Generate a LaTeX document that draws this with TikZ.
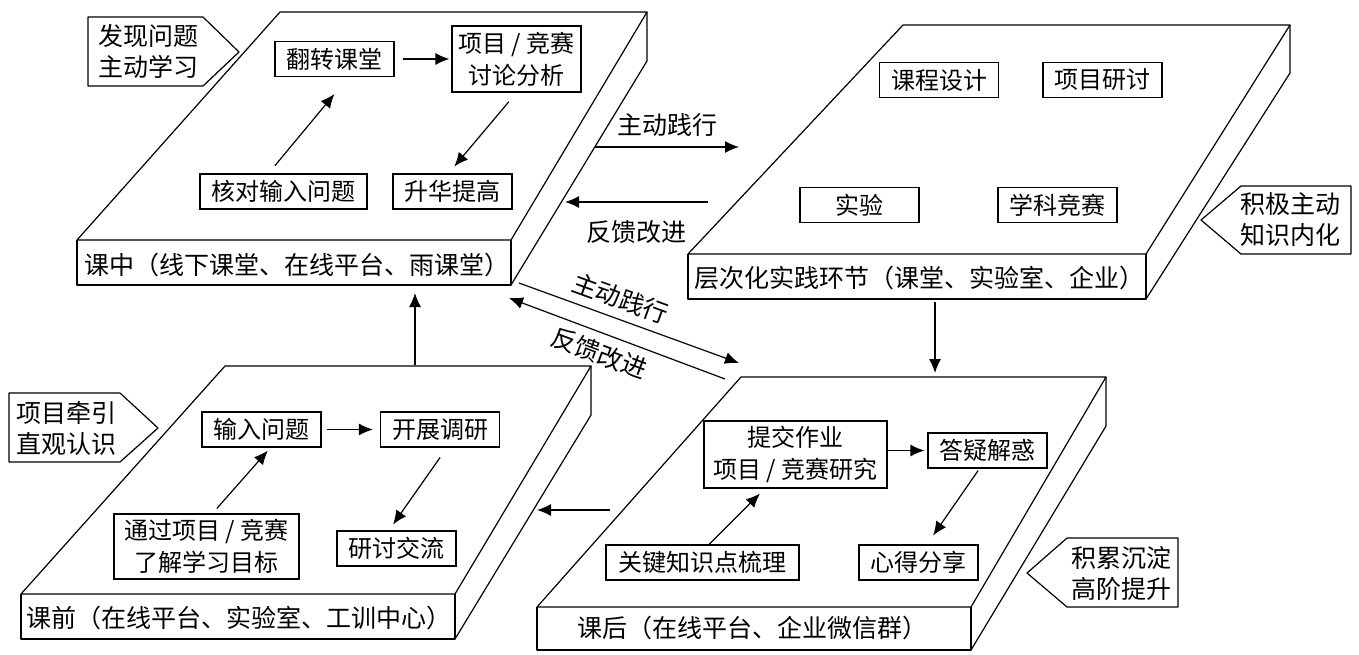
\documentclass[tikz,border=0pt]{standalone}
\usepackage{fontspec}
\newfontfamily\cjk{Noto Sans CJK SC}
\usetikzlibrary{arrows.meta}

\tikzset{
  box/.style={draw, line width=0.6pt, font=\cjk\fontsize{12}{16}\selectfont, align=center,
    minimum width=59.5pt, minimum height=17.5pt, inner sep=2pt},
  edge/.style={line width=0.6pt, line join=round},
  arr/.style={line width=0.6pt, -{Latex[length=7pt,width=6pt]}},
  backarr/.style={line width=0.6pt, {Latex[length=7pt,width=6pt]}-},
  lbl/.style={font=\cjk\fontsize{12.5}{15}\selectfont, inner sep=0pt},
  tag/.style={font=\cjk\fontsize{12.5}{15.5}\selectfont, align=left, inner sep=0pt}
}

\begin{document}
\begin{tikzpicture}[x=0.5pt, y=-0.5pt]
    \useasboundingbox (0,0) rectangle (1359,654);

    % slabs
    \draw [edge] (77,240) -- (280,12) -- (647,12) -- (511,240) -- cycle;
    \draw [edge] (511,240) -- (511,285) -- (77,285) -- (77,240);
    \draw [edge] (647,12) -- (647,61) -- (511,285);

    \draw [edge] (688,254) -- (903,25) -- (1290,25) -- (1146,254) -- cycle;
    \draw [edge] (1146,254) -- (1146,299) -- (688,299) -- (688,254);
    \draw [edge] (1290,25) -- (1290,73) -- (1146,299);

    \draw [edge] (21,594) -- (225,366) -- (591,366) -- (455,594) -- cycle;
    \draw [edge] (455,594) -- (455,639) -- (21,639) -- (21,594);
    \draw [edge] (591,366) -- (591,415) -- (455,639);

    \draw [edge] (537,607) -- (741,377) -- (1106,377) -- (971,607) -- cycle;
    \draw [edge] (971,607) -- (971,650) -- (537,650) -- (537,607);
    \draw [edge] (1106,377) -- (1106,426) -- (971,650);

    \node [lbl] (inclass) at (297,265) {课中（线下课堂、在线平台、雨课堂）};
    \node [lbl] (practice) at (919,278) {层次化实践环节（课堂、实验室、企业）};
    \node [lbl] (preclass) at (239,618) {课前（在线平台、实验室、工训中心）};
    \node [lbl] (afterclass) at (752,628) {课后（在线平台、企业微信群）};

    % callouts
    \draw [edge] (88,17) -- (203,17) -- (239,52) -- (203,86) -- (88,86) -- cycle;
    \node [tag] (find) at (148,51) {发现问题\\主动学习};
    \draw [edge] (1351,186) -- (1241,186) -- (1201,220) -- (1241,254) -- (1351,254) -- cycle;
    \node [tag] (inner) at (1290,220) {积极主动\\知识内化};
    \draw [edge] (9,393) -- (120,393) -- (158,428) -- (120,462) -- (9,462) -- cycle;
    \node [tag] (lead) at (67,428) {项目牵引\\直观认识};
    \draw [edge] (1178,538) -- (1067,538) -- (1027,573) -- (1067,607) -- (1178,607) -- cycle;
    \node [tag] (gain) at (1121,573) {积累沉淀\\高阶提升};

    % in class
    \node [box] (flip) at (334.5,59) {翻转课堂};
    \node [box, minimum width=64.5pt, minimum height=33pt] (proj) at (516.5,59) {项目 / 竞赛\\讨论分析};
    \node [box, minimum width=83.5pt] (check) at (283.5,191.5) {核对输入问题};
    \node [box] (rise) at (452.5,191.5) {升华提高};
    \draw [arr, shorten <=4pt, shorten >=1pt] (flip.east) -- (proj.west);
    \draw [arr, shorten <=5pt, shorten >=11pt] ([xshift=-7.5pt]check.north) -- ([xshift=7pt]flip.south);
    \draw [arr, shorten <=6pt, shorten >=4.5pt] (proj.south) -- ([xshift=-2pt]rise.north);

    % practice
    \node [box] (design) at (939,80) {课程设计};
    \node [box] (study) at (1102.5,80) {项目研讨};
    \node [box] (exper) at (859.5,205) {实验};
    \node [box] (contest) at (1057.5,205) {学科竞赛};

    % before class
    \node [box] (input) at (261.5,429.5) {输入问题};
    \node [box] (survey) at (440,429.5) {开展调研};
    \node [box, minimum width=92.5pt, minimum height=32.5pt] (goal) at (206.5,546.5) {通过项目 / 竞赛\\了解学习目标};
    \node [box] (talk) at (396.5,548.5) {研讨交流};
    \draw [arr, shorten <=2.5pt, shorten >=3.5pt] (input.east) -- (survey.west);
    \draw [arr, shorten <=3.3pt, shorten >=2pt] ([xshift=3pt]goal.north) -- ([xshift=4.5pt]input.south);
    \draw [arr, shorten <=6pt, shorten >=3.6pt] ([xshift=3.5pt]survey.south) -- ([xshift=-3.8pt]talk.north);

    % after class
    \node [box, minimum width=91.5pt, minimum height=33.5pt] (submit) at (795.5,454.5) {提交作业\\项目 / 竞赛研究};
    \node [box] (qa) at (987.5,450.5) {答疑解惑};
    \node [box, minimum width=96.5pt] (key) at (702.5,562.5) {关键知识点梳理};
    \node [box] (share) at (918.5,562.5) {心得分享};
    \draw [arr, shorten >=1.5pt] (submit.east |- qa.west) -- (qa.west);
    \draw [arr, shorten >=3.5pt] ([xshift=3.3pt]key.north) -- ([xshift=-15.3pt]submit.south);
    \draw [arr, shorten <=1.2pt, shorten >=5.4pt] ([xshift=-4pt]qa.south) -- ([xshift=4.2pt]share.north);

    % between slabs
    \coordinate (go1) at (595,147);
    \coordinate (go2) at (739,147);
    \coordinate (fb1) at (708,202);
    \coordinate (fb2) at (565,202);
    \coordinate (go3) at (519,283);
    \coordinate (go4) at (739,363);
    \coordinate (fb3) at (509,298);
    \coordinate (fb4) at (725,379);
    \coordinate (up1) at (415,365);
    \coordinate (up2) at (415,293);
    \coordinate (dn1) at (935,302);
    \coordinate (dn2) at (935,373);
    \coordinate (lf1) at (610,510);
    \coordinate (lf2) at (537,510);

    \draw [arr] (go1) -- (go2) node [lbl, midway, above=5pt] {主动践行};
    \draw [arr] (fb1) -- (fb2) node [lbl, midway, below=9pt] {反馈改进};
    \draw [arr] (go3) -- (go4) node [lbl, pos=0.43, sloped, above=4pt] {主动践行};
    \draw [backarr] (fb3) -- (fb4) node [lbl, pos=0.45, sloped, below=4pt] {反馈改进};
    \draw [arr] (up1) -- (up2);
    \draw [arr] (dn1) -- (dn2);
    \draw [arr] (lf1) -- (lf2);
  \end{tikzpicture}
\end{document}
